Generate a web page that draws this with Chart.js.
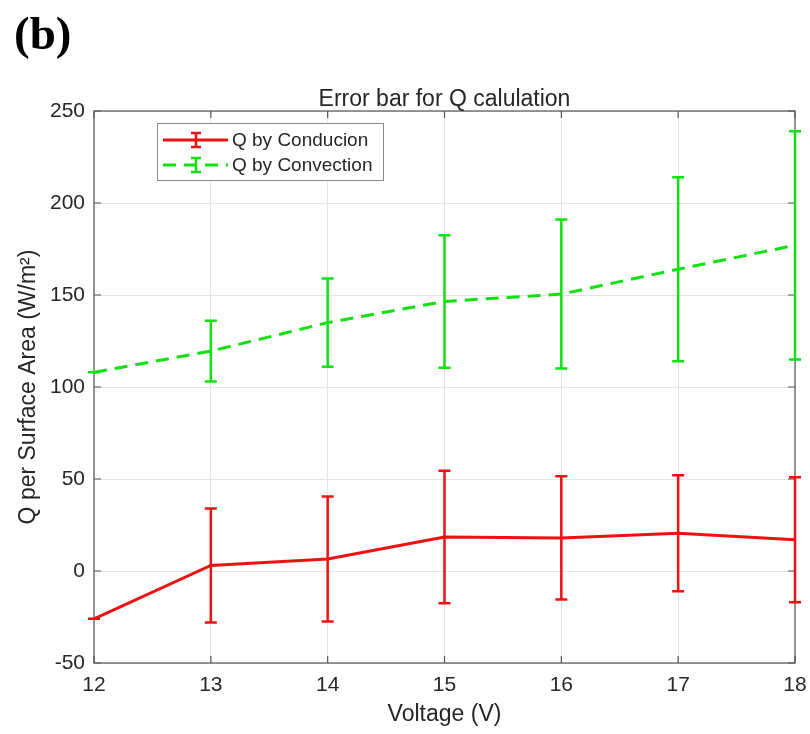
<!DOCTYPE html>
<html>
<head>
<meta charset="utf-8">
<script src="https://cdn.jsdelivr.net/npm/chart.js@4.4.1/dist/chart.umd.min.js"></script>
<style>
  html, body { margin: 0; padding: 0; background: #fff; }
  #wrap { position: relative; width: 810px; height: 734px; }
  #panel { position: absolute; left: 14px; top: 10px; font: bold 47px "Liberation Serif", "Times New Roman", serif; color: #000; line-height: 1; }
  canvas { position: absolute; left: 0; top: 0; }
</style>
</head>
<body>
<div id="wrap">
  <canvas id="chart" width="810" height="734"></canvas>
  <div id="panel">(b)</div>
</div>
<script>
// values
const voltage = [12, 13, 14, 15, 16, 17, 18];
const condQ = [-26, 3, 6.5, 18.5, 18, 20.5, 17];
const condErr = [0, 31, 34, 36, 33.5, 31.5, 34];
const convQ = [108, 119.5, 135, 146.5, 150.5, 164, 177];
const convErr = [0, 16.5, 24, 36, 40.5, 50, 62];
const xTicks = [12, 13, 14, 15, 16, 17, 18];
const yTicks = [-50, 0, 50, 100, 150, 200, 250];
const chartTitle = "Error bar for Q calulation";

const RED = "#ee1111";
const GREEN = "#11e011";
const FONT = "'Liberation Sans', Arial, sans-serif";
const TXT = "#262626";

const toPts = (ys) => voltage.map((v, i) => ({ x: v, y: ys[i] }));

// error bars, drawn through the chart scales
const errorBars = {
  id: "errorBars",
  afterDatasetsDraw(chart) {
    const { ctx, scales } = chart;
    chart.data.datasets.forEach((ds) => {
      if (!ds.errors) return;
      ctx.save();
      ctx.strokeStyle = ds.borderColor;
      ctx.lineWidth = 2.5;
      ctx.setLineDash([]);
      ds.data.forEach((p, i) => {
        const e = ds.errors[i];
        const x = scales.x.getPixelForValue(p.x);
        const yt = scales.y.getPixelForValue(p.y + e);
        const yb = scales.y.getPixelForValue(p.y - e);
        ctx.beginPath();
        ctx.moveTo(x, yt); ctx.lineTo(x, yb);
        ctx.moveTo(x - 6, yt); ctx.lineTo(x + 6, yt);
        ctx.moveTo(x - 6, yb); ctx.lineTo(x + 6, yb);
        ctx.stroke();
      });
      ctx.restore();
    });
  },
};

// matlab style box with inward ticks, title centred over the axes
const boxFrame = {
  id: "boxFrame",
  beforeDatasetsDraw(chart) {
    const { ctx, chartArea: a, scales } = chart;
    ctx.save();
    ctx.strokeStyle = "#555";
    ctx.lineWidth = 1.2;
    ctx.strokeRect(a.left, a.top, a.right - a.left, a.bottom - a.top);
    ctx.beginPath();
    xTicks.forEach((v) => {
      const x = scales.x.getPixelForValue(v);
      ctx.moveTo(x, a.bottom); ctx.lineTo(x, a.bottom - 7);
      ctx.moveTo(x, a.top); ctx.lineTo(x, a.top + 7);
    });
    yTicks.forEach((v) => {
      const y = scales.y.getPixelForValue(v);
      ctx.moveTo(a.left, y); ctx.lineTo(a.left + 7, y);
      ctx.moveTo(a.right, y); ctx.lineTo(a.right - 7, y);
    });
    ctx.stroke();
    ctx.fillStyle = TXT;
    ctx.font = "23px " + FONT;
    ctx.textAlign = "center";
    ctx.textBaseline = "alphabetic";
    ctx.fillText(chartTitle, (a.left + a.right) / 2, a.top - 5);
    ctx.restore();
  },
};

// legend box in upper left
const boxLegend = {
  id: "boxLegend",
  afterDraw(chart) {
    const { ctx } = chart;
    const bx = 157, by = 123, bw = 226, bh = 57;
    ctx.save();
    ctx.fillStyle = "#fff";
    ctx.fillRect(bx, by, bw, bh);
    ctx.strokeStyle = "#8a8a8a";
    ctx.lineWidth = 1;
    ctx.strokeRect(bx + 0.5, by + 0.5, bw, bh);
    const rows = [
      { y: 140, ds: chart.data.datasets[0] },
      { y: 165, ds: chart.data.datasets[1] },
    ];
    rows.forEach((r) => {
      ctx.strokeStyle = r.ds.borderColor;
      ctx.lineWidth = r.ds.borderWidth;
      ctx.setLineDash(r.ds.borderDash || []);
      ctx.beginPath();
      ctx.moveTo(163, r.y); ctx.lineTo(228, r.y);
      ctx.stroke();
      ctx.setLineDash([]);
      ctx.lineWidth = 2.5;
      ctx.beginPath();
      ctx.moveTo(196, r.y - 7); ctx.lineTo(196, r.y + 7);
      ctx.moveTo(191, r.y - 7); ctx.lineTo(201, r.y - 7);
      ctx.moveTo(191, r.y + 7); ctx.lineTo(201, r.y + 7);
      ctx.stroke();
      ctx.fillStyle = TXT;
      ctx.font = "19px " + FONT;
      ctx.textBaseline = "middle";
      ctx.fillText(r.ds.label, 232, r.y + 1);
    });
    ctx.restore();
  },
};

new Chart(document.getElementById("chart"), {
  type: "line",
  data: {
    datasets: [
      {
        label: "Q by Conducion",
        data: toPts(condQ),
        errors: condErr,
        borderColor: RED,
        borderWidth: 3,
        pointRadius: 0,
        tension: 0,
      },
      {
        label: "Q by Convection",
        data: toPts(convQ),
        errors: convErr,
        borderColor: GREEN,
        borderWidth: 3,
        borderDash: [13, 8],
        pointRadius: 0,
        tension: 0,
      },
    ],
  },
  options: {
    responsive: false,
    animation: false,
    devicePixelRatio: 1,
    layout: { padding: { left: 0, right: 15, top: 111, bottom: 0 } },
    plugins: {
      legend: { display: false },
      tooltip: { enabled: false },
      title: { display: false },
    },
    scales: {
      x: {
        type: "linear",
        min: 12,
        max: 18,
        afterBuildTicks: (s) => { s.ticks = xTicks.map((v) => ({ value: v })); },
        afterFit: (s) => { s.height = 71; s.paddingLeft = 0; s.paddingRight = 0; },
        grid: { color: "#e4e4e4", drawTicks: false },
        border: { display: false },
        ticks: { color: TXT, padding: 10, font: { family: FONT, size: 21 } },
        title: {
          display: true,
          text: "Voltage (V)",
          color: TXT,
          font: { family: FONT, size: 23 },
          padding: { top: 0, bottom: 6 },
        },
      },
      y: {
        type: "linear",
        min: -50,
        max: 250,
        afterBuildTicks: (s) => { s.ticks = yTicks.map((v) => ({ value: v })); },
        afterFit: (s) => { s.width = 94; s.paddingTop = 0; s.paddingBottom = 0; },
        grid: { color: "#e4e4e4", drawTicks: false },
        border: { display: false },
        ticks: { color: TXT, padding: 9, font: { family: FONT, size: 21 } },
        title: {
          display: true,
          text: "Q per Surface Area (W/m²)",
          color: TXT,
          font: { family: FONT, size: 23 },
          padding: { top: 15, bottom: 0 },
        },
      },
    },
  },
  plugins: [boxFrame, errorBars, boxLegend],
});
</script>
</body>
</html>
